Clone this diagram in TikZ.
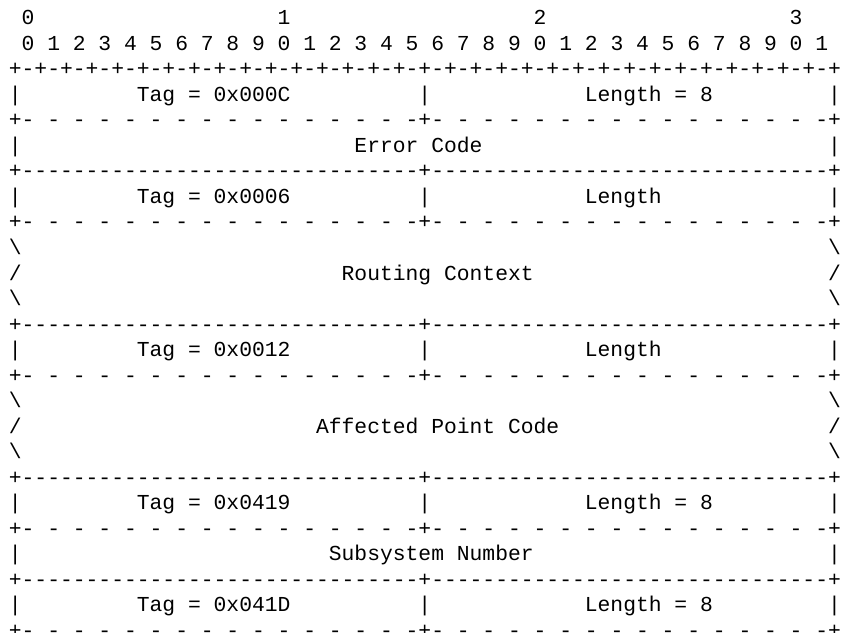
\documentclass[tikz,border=0pt]{standalone}
\usepackage{fontspec}
\newfontfamily\asciifont{Liberation Mono}[Ligatures=TeXOff]
\usepackage{tikz}

% pieces of the ruler lines, 8 characters each
\newcommand{\tickpart}{-+-+-+-+}
\newcommand{\solidpart}{--------}
\newcommand{\dashpart}{- - - - }
\newcommand{\digitpart}{0 1 2 3 4 5 6 7 8 9 }

\begin{document}
\begin{tikzpicture}[x=9.6pt, y=-19.125pt,
    every node/.style={inner sep=0pt, anchor=base west,
      font=\asciifont\fontsize{16}{19}\selectfont}]
    \useasboundingbox (-0.672,-0.98) rectangle (65.03,23.84);

    % bit numbers
    \node (ten0) at (1,0) {0};
    \node (ten1) at (21,0) {1};
    \node (ten2) at (41,0) {2};
    \node (ten3) at (61,0) {3};
    \node (bits) at (1,1) {\digitpart\digitpart\digitpart0 1};
    \node (ticks) at (0,2) {+\tickpart\tickpart\tickpart\tickpart\tickpart\tickpart\tickpart\tickpart};

    % ruler lines
    \foreach \r in {4,8,14,20,24}
      \node (dash\r) at (0,\r) {+\dashpart\dashpart\dashpart- - - -+\dashpart\dashpart\dashpart- - - -+};
    \foreach \r in {6,12,18,22}
      \node (solid\r) at (0,\r) {+\solidpart\solidpart\solidpart-------+\solidpart\solidpart\solidpart-------+};

    % tag and length rows
    \foreach \r/\t/\l in {3/000C/Length = 8, 7/0006/Length, 13/0012/Length,
                          19/0419/Length = 8, 23/041D/Length = 8} {
      \node (tag\r) at (10,\r) {Tag = 0x\t};
      \node (len\r) at (45,\r) {\l};
      \foreach \c in {0,32,64}
        \node (bar\r-\c) at (\c,\r) {|};
    }

    % one-word rows
    \node (err) at (27,5) {Error Code};
    \node (ssn) at (25,21) {Subsystem Number};
    \foreach \r in {5,21} {
      \node (side\r-0) at (0,\r) {|};
      \node (side\r-64) at (64,\r) {|};
    }

    % variable length rows
    \node (rc) at (26,10) {Routing Context};
    \node (apc) at (24,16) {Affected Point Code};
    \foreach \r in {9,11,15,17} {
      \node (bsl\r-0) at (0,\r) {\textbackslash};
      \node (bsl\r-64) at (64,\r) {\textbackslash};
    }
    \foreach \r in {10,16} {
      \node (sl\r-0) at (0,\r) {/};
      \node (sl\r-64) at (64,\r) {/};
    }
\end{tikzpicture}
\end{document}
